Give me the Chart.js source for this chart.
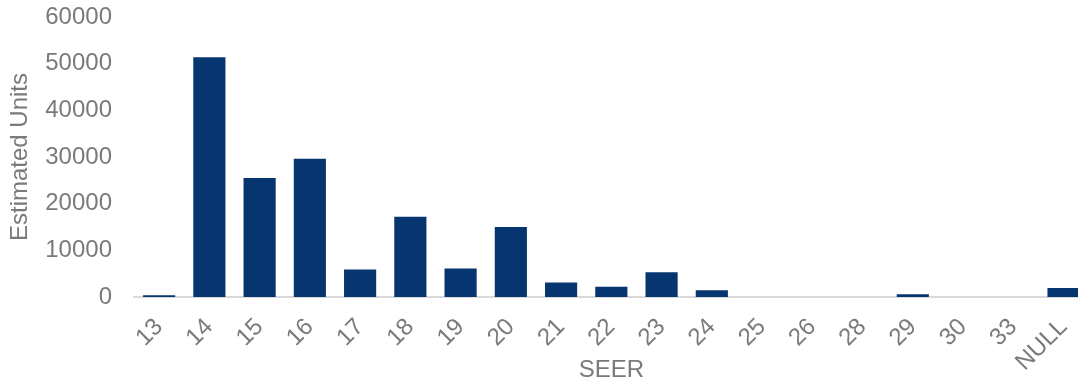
<!DOCTYPE html>
<html>
<head>
<meta charset="utf-8">
<script src="https://cdn.jsdelivr.net/npm/chart.js@4/dist/chart.umd.min.js"></script>
<style>
  html, body { margin: 0; padding: 0; overflow: hidden; background: #ffffff; }
  #wrap { position: relative; width: 1100px; height: 383px; }
</style>
</head>
<body>
<div id="wrap"><canvas id="chart"></canvas></div>
<script>
// SEER rating categories and estimated unit counts
const seerLevels = ['13', '14', '15', '16', '17', '18', '19', '20', '21', '22', '23', '24', '25', '26', '28', '29', '30', '33', 'NULL'];
const estimatedUnits = [400, 51400, 25500, 29600, 5900, 17200, 6100, 15000, 3100, 2200, 5300, 1450, 0, 0, 0, 580, 0, 0, 1950];
const unitTicks = [0, 10000, 20000, 30000, 40000, 50000, 60000];

const labelFont = { family: "'Liberation Sans', Arial, sans-serif", size: 24 };
const textGray = '#7a7a7a';

new Chart(document.getElementById('chart'), {
  type: 'bar',
  data: {
    labels: seerLevels,
    datasets: [{
      data: estimatedUnits,
      backgroundColor: '#063570',
      borderWidth: 0,
      barPercentage: 0.64,
      categoryPercentage: 1.0
    }]
  },
  options: {
    responsive: true,
    maintainAspectRatio: false,
    animation: false,
    layout: { padding: { left: 6, right: 4, top: 0, bottom: 0 } },
    plugins: {
      legend: { display: false },
      tooltip: { enabled: false }
    },
    scales: {
      x: {
        grid: { display: false, drawTicks: false },
        border: { display: true, color: '#d9d9d9', width: 2 },
        afterFit: (scale) => { scale.height = 86; },
        ticks: {
          color: textGray,
          font: labelFont,
          maxRotation: 45,
          minRotation: 45,
          padding: 16,
          autoSkip: false
        },
        title: {
          display: true,
          text: 'SEER',
          color: textGray,
          font: labelFont,
          padding: { top: 0, bottom: -2 }
        }
      },
      y: {
        min: 0,
        max: 60000,
        afterBuildTicks: (scale) => { scale.ticks = unitTicks.map(v => ({ value: v })); },
        afterFit: (scale) => { scale.width = 128; scale.paddingTop = 17; },
        grid: { display: false, drawTicks: false },
        border: { display: false },
        ticks: {
          color: textGray,
          font: labelFont,
          padding: 22,
          callback: (v) => String(v)
        },
        title: {
          display: true,
          text: 'Estimated Units',
          color: textGray,
          font: labelFont,
          padding: { top: 0, bottom: 0 }
        }
      }
    }
  }
});
</script>
</body>
</html>
